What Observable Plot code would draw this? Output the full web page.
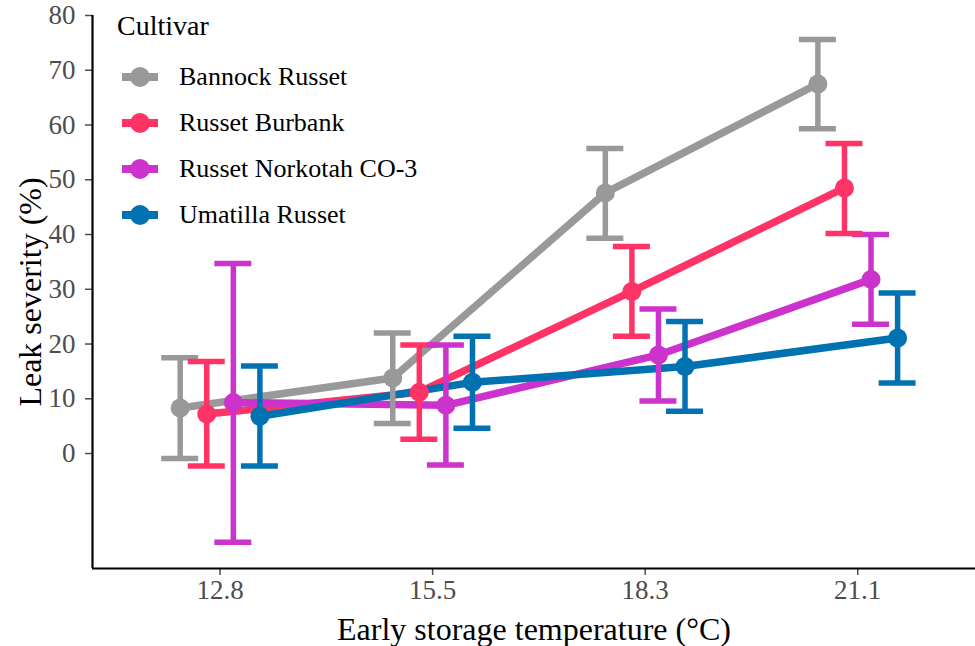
<!DOCTYPE html>
<html>
<head>
<meta charset="utf-8">
<script src="https://cdn.jsdelivr.net/npm/d3@7"></script>
<script src="https://cdn.jsdelivr.net/npm/@observablehq/plot@0.6"></script>
<style>
  html, body { margin: 0; padding: 0; background: white; }
  #chart { width: 975px; height: 646px; }
</style>
</head>
<body>
<div id="chart"></div>
<script>
// ---- Data ----
const temps = ["12.8", "15.5", "18.3", "21.1"];
const cultivars = ["Bannock Russet", "Russet Burbank", "Russet Norkotah CO-3", "Umatilla Russet"];
const colors = ["#999999", "#FF3366", "#CC33CC", "#0072B2"];

const bannockMean  = [8.3, 13.8, 47.6, 67.5];
const bannockLow   = [-0.9, 5.5, 39.3, 59.3];
const bannockHigh  = [17.5, 22.0, 55.7, 75.6];

const burbankMean  = [7.2, 11.2, 29.6, 48.5];
const burbankLow   = [-2.3, 2.6, 21.4, 40.2];
const burbankHigh  = [16.8, 19.8, 37.8, 56.6];

const norkotahMean = [9.3, 8.8, 18.0, 31.8];
const norkotahLow  = [-16.2, -2.1, 9.6, 23.6];
const norkotahHigh = [34.7, 19.8, 26.4, 40.0];

const umatillaMean = [6.8, 13.0, 15.9, 21.1];
const umatillaLow  = [-2.3, 4.6, 7.7, 12.9];
const umatillaHigh = [16.0, 21.4, 24.1, 29.3];

const yTicks = [0, 10, 20, 30, 40, 50, 60, 70, 80];
const xTitle = "Early storage temperature (°C)";
const yTitle = "Leak severity (%)";
const legendTitle = "Cultivar";

// ---- Build table ----
const series = [
  [bannockMean, bannockLow, bannockHigh],
  [burbankMean, burbankLow, burbankHigh],
  [norkotahMean, norkotahLow, norkotahHigh],
  [umatillaMean, umatillaLow, umatillaHigh]
];
const dodgeWidth = 0.5;
const capHalf = 0.087;
const rows = [];
series.forEach(([m, lo, hi], ci) => {
  const off = (ci - (cultivars.length - 1) / 2) * dodgeWidth / cultivars.length;
  temps.forEach((t, ti) => {
    rows.push({
      cultivar: cultivars[ci], temp: t, xi: ti + off,
      mean: m[ti], low: lo[ti], high: hi[ti]
    });
  });
});

const font = "'Liberation Serif', 'Times New Roman', serif";

const chart = Plot.plot({
  width: 975,
  height: 646,
  marginLeft: 92,
  marginRight: 0,
  marginTop: 15,
  marginBottom: 78,
  style: { fontFamily: font, background: "white", overflow: "visible" },
  x: { domain: [-0.6, 3.554], axis: null },
  y: { domain: [-21, 80], axis: null },
  color: { domain: cultivars, range: colors },
  marks: [
    Plot.axisY({
      ticks: yTicks, tickSize: 7, tickPadding: 10, fontSize: 27,
      color: "#4D4D4D", strokeWidth: 1.5, label: null
    }),
    Plot.axisX({
      ticks: [0, 1, 2, 3], tickFormat: i => temps[i], tickSize: 7, tickPadding: 4,
      fontSize: 27, color: "#4D4D4D", strokeWidth: 1.5, label: null
    }),
    Plot.ruleX([-0.6], { stroke: "black", strokeWidth: 2.2 }),
    Plot.ruleY([-21], { stroke: "black", strokeWidth: 2.2 }),
    Plot.text([xTitle], {
      frameAnchor: "bottom", dy: 61, text: d => d, fontSize: 32,
      fill: "black", lineAnchor: "middle", textAnchor: "middle"
    }),
    Plot.text([yTitle], {
      frameAnchor: "left", dx: -62, rotate: -90, text: d => d, fontSize: 32,
      fill: "black", lineAnchor: "middle", textAnchor: "middle"
    }),
    Plot.line(rows, {
      x: "xi", y: "mean", z: "cultivar", stroke: "cultivar",
      strokeWidth: 7.5, strokeLinecap: "butt"
    }),
    Plot.ruleX(rows, {
      x: "xi", y1: "low", y2: "high", stroke: "cultivar", strokeWidth: 5.5
    }),
    Plot.ruleY(rows, {
      y: "high", x1: d => d.xi - capHalf, x2: d => d.xi + capHalf,
      stroke: "cultivar", strokeWidth: 5.5
    }),
    Plot.ruleY(rows, {
      y: "low", x1: d => d.xi - capHalf, x2: d => d.xi + capHalf,
      stroke: "cultivar", strokeWidth: 5.5
    }),
    Plot.dot(rows, {
      x: "xi", y: "mean", fill: "cultivar", r: 9.5
    })
  ]
});

document.getElementById("chart").appendChild(chart);

// ---- Legend (inside the panel, top-left) ----
const svg = d3.select(chart);
const lg = svg.append("g").attr("font-family", font).attr("text-anchor", "start");
lg.append("text").attr("x", 117).attr("y", 35).attr("font-size", 28)
  .attr("fill", "black").attr("text-anchor", "start").text(legendTitle);
cultivars.forEach((c, i) => {
  const base = 85 + i * 46;
  const cy = base - 8;
  lg.append("line").attr("x1", 122).attr("x2", 158).attr("y1", cy).attr("y2", cy)
    .attr("stroke", colors[i]).attr("stroke-width", 8);
  lg.append("circle").attr("cx", 140).attr("cy", cy).attr("r", 10).attr("fill", colors[i]);
  lg.append("text").attr("x", 179).attr("y", base).attr("font-size", 26)
    .attr("fill", "black").attr("text-anchor", "start").text(c);
});
</script>
</body>
</html>
